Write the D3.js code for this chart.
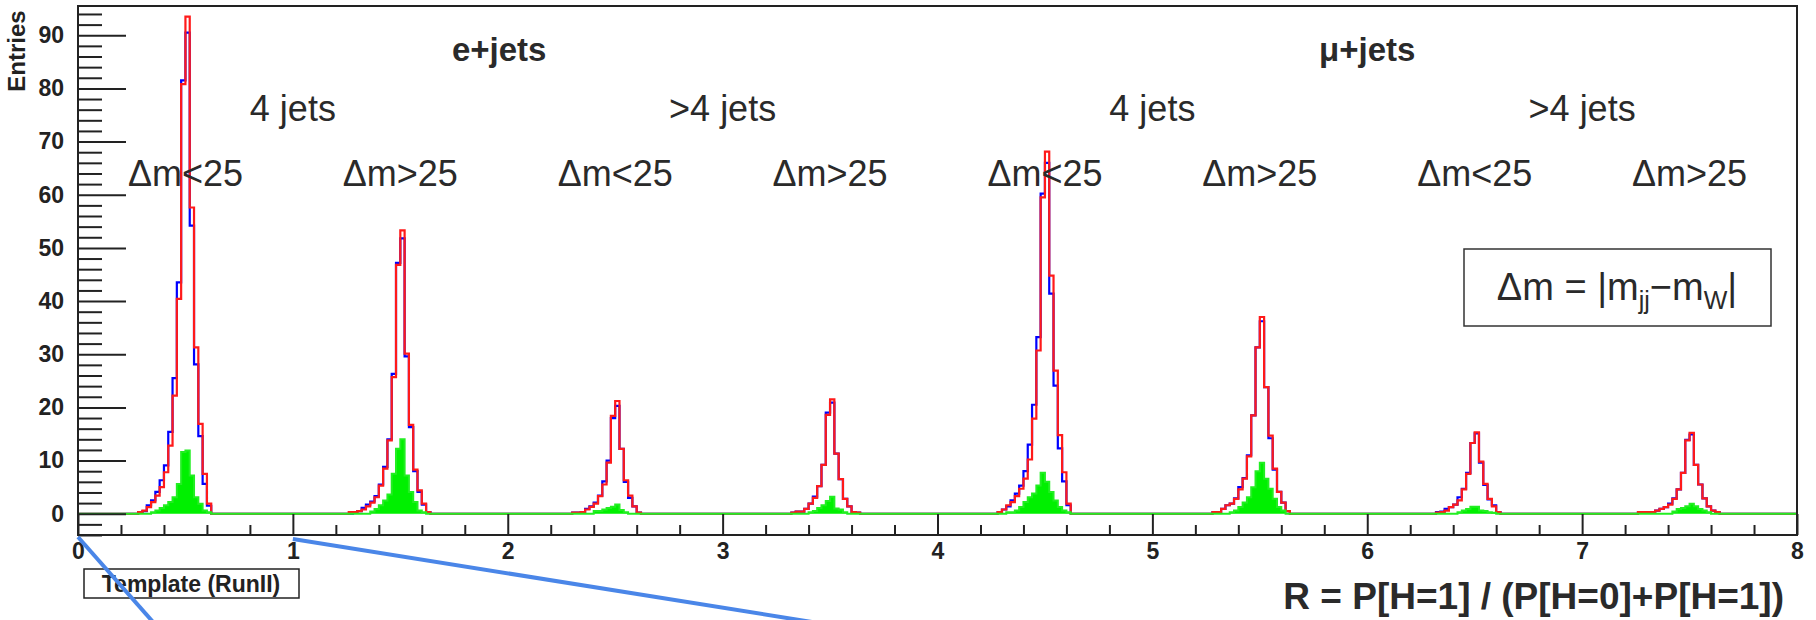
<!DOCTYPE html>
<html><head><meta charset="utf-8">
<script src="https://cdn.jsdelivr.net/npm/d3@7"></script>
<style>body{margin:0;background:#fff;} svg{display:block;}</style>
</head><body><svg id="c" width="1816" height="620"></svg>
<script>
// ---------------- data ----------------
const binWidth = 0.02;           // 50 bins per unit of R
const binsPerUnit = 50;
const firstBin = 13;             // each group array starts at bin 13 inside its unit
const channels = ["e+jets", "μ+jets"];
const channelCenters = [1.96, 6];
const jetLabels = ["4 jets", ">4 jets", "4 jets", ">4 jets"];
const jetCenters = [1, 3, 5, 7];
const dmLabels = ["Δm<25", "Δm>25", "Δm<25", "Δm>25", "Δm<25", "Δm>25", "Δm<25", "Δm>25"];
const dmCenters = [0.5, 1.5, 2.5, 3.5, 4.5, 5.5, 6.5, 7.5];
const xTicks = [0, 1, 2, 3, 4, 5, 6, 7, 8];
const yTicks = [0, 10, 20, 30, 40, 50, 60, 70, 80, 90];

// bins 13..32 of each unit (template groups 0..7)
const redCounts = [
  [0, 0.3, 0.6, 1.25, 2.2, 3.4, 5.0, 7.8, 12.8, 22.2, 40.4, 80.8, 93.5, 57.6, 31.3, 16.9, 7.5, 1.9, 0, 0],
  [0.3, 0.3, 0.5, 0.8, 1.4, 2.1, 3.1, 5.3, 8.5, 13.8, 25.7, 46.8, 53.3, 30.1, 16.7, 8.3, 4.4, 1.9, 0.3, 0],
  [0, 0, 0.2, 0.2, 0.3, 0.8, 1.3, 1.9, 3.3, 5.5, 9.6, 18.4, 21.2, 12.2, 6.3, 3.4, 1.4, 0.2, 0, 0],
  [0, 0, 0, 0.2, 0.4, 0.4, 0.9, 1.9, 3.0, 5.2, 9.2, 18.6, 21.5, 11.3, 6.5, 2.8, 1.4, 0.3, 0.2, 0],
  [0, 0.3, 0.8, 1.6, 2.2, 3.3, 4.7, 6.6, 10.2, 17.9, 30.7, 59.5, 68.1, 44.8, 26.9, 14.8, 7.8, 1.9, 0, 0],
  [0, 0.3, 0.3, 0.9, 1.6, 1.9, 2.8, 4.6, 6.6, 10.8, 18.5, 31.3, 37.0, 23.8, 14.7, 8.5, 4.1, 2.1, 0.5, 0],
  [0, 0, 0, 0.2, 0.3, 0.6, 1.25, 1.7, 2.5, 4.6, 7.5, 13.3, 15.3, 9.8, 5.6, 2.8, 1.4, 0.3, 0, 0],
  [0.3, 0.3, 0.3, 0.3, 0.6, 0.9, 1.25, 1.7, 2.8, 4.6, 7.7, 13.8, 15.2, 9.2, 5.5, 2.9, 1.4, 0.6, 0.3, 0]
];
const blueCounts = [
  [0, 0.3, 0.5, 1.6, 2.5, 4.1, 6.3, 9.1, 15.4, 25.5, 43.5, 81.5, 90.5, 54.2, 28.1, 14.6, 5.6, 1.5, 0, 0],
  [0, 0.3, 0.5, 1.1, 1.7, 2.3, 3.3, 5.5, 8.8, 14.0, 26.3, 47.2, 51.8, 29.6, 16.3, 8.0, 4.1, 1.7, 0.3, 0],
  [0, 0, 0.2, 0.2, 0.3, 0.9, 1.4, 2.1, 3.4, 6.1, 10.0, 18.0, 20.3, 12.2, 6.0, 3.0, 1.4, 0.2, 0, 0],
  [0, 0, 0, 0.2, 0.4, 0.4, 0.9, 1.9, 3.2, 5.2, 9.2, 19.0, 20.9, 11.3, 6.5, 2.8, 1.4, 0.3, 0.2, 0],
  [0, 0.3, 0.8, 1.4, 2.5, 3.8, 5.3, 8.0, 13.0, 20.5, 33.2, 60.2, 66.0, 41.4, 24.1, 12.3, 6.1, 1.6, 0, 0],
  [0, 0.3, 0.3, 0.9, 1.6, 1.9, 2.9, 5.0, 6.7, 11.0, 18.5, 31.3, 36.2, 23.8, 14.2, 8.3, 4.1, 2.1, 0.5, 0],
  [0, 0, 0, 0.3, 0.4, 0.9, 1.25, 1.7, 3.1, 4.7, 7.7, 13.3, 15.1, 9.6, 5.4, 2.7, 1.6, 0.3, 0, 0],
  [0.3, 0.3, 0.3, 0.3, 0.6, 0.9, 1.25, 1.9, 2.9, 4.6, 7.7, 13.9, 14.9, 9.2, 5.5, 2.9, 1.4, 0.6, 0.3, 0]
];
const greenCounts = [
  [0, 0, 0, 0, 0.3, 0.6, 1.1, 1.6, 2.2, 3.1, 5.6, 11.6, 11.9, 7.2, 3.1, 1.9, 0.6, 0.3, 0, 0],
  [0, 0, 0, 0, 0, 0.4, 0.9, 1.6, 2.5, 3.6, 7.5, 12.2, 14.0, 7.2, 4.1, 2.2, 0.6, 0.3, 0, 0],
  [0, 0, 0, 0, 0, 0, 0, 0.5, 0.5, 0.8, 1.1, 1.3, 1.75, 0.7, 0.3, 0, 0, 0, 0, 0],
  [0, 0, 0, 0, 0, 0, 0, 0.3, 0.5, 1.1, 1.6, 2.4, 3.2, 1.0, 0.8, 0.3, 0, 0, 0, 0],
  [0, 0, 0, 0.3, 0.3, 0.6, 1.25, 2.2, 3.1, 3.8, 5.3, 7.7, 6.0, 4.1, 2.5, 1.25, 0.6, 0.3, 0, 0],
  [0, 0, 0, 0, 0, 0.3, 0.6, 1.25, 2.1, 3.1, 5.0, 8.0, 9.6, 6.6, 4.7, 2.8, 1.25, 0.6, 0, 0],
  [0, 0, 0, 0, 0, 0, 0, 0, 0.3, 0.6, 0.9, 1.3, 1.3, 0.6, 0.5, 0.3, 0.2, 0, 0, 0],
  [0, 0, 0, 0, 0, 0, 0, 0, 0.4, 0.9, 1.1, 1.4, 1.9, 1.4, 0.9, 0.6, 0.3, 0, 0, 0]
];

// ---------------- layout ----------------
const frame = {left: 78, right: 1797, top: 6, bottom: 535};
const svg = d3.select("#c");
const x = d3.scaleLinear().domain([0, 8]).range([frame.left, frame.right]);
const y = d3.scaleLinear().domain([-4, 95.5]).range([frame.bottom, frame.top]);

function expand(groups) {
  const n = 8 * binsPerUnit;
  const full = new Array(n).fill(0);
  groups.forEach((g, gi) => g.forEach((v, j) => { full[gi * binsPerUnit + firstBin + j] = v; }));
  const pts = full.map((v, i) => [i * binWidth, v]);
  pts.push([8, full[n - 1]]);
  return pts;
}

svg.append("defs").append("clipPath").attr("id", "clip")
  .append("rect").attr("x", frame.left).attr("y", frame.top)
  .attr("width", frame.right - frame.left).attr("height", frame.bottom - frame.top);

const plot = svg.append("g").attr("clip-path", "url(#clip)");
const line = d3.line().x(d => x(d[0])).y(d => y(d[1])).curve(d3.curveStepAfter);
const area = d3.area().x(d => x(d[0])).y0(y(0)).y1(d => y(d[1])).curve(d3.curveStepAfter);

plot.append("path").datum(expand(blueCounts)).attr("d", line)
  .attr("fill", "none").attr("stroke", "#0000ff").attr("stroke-width", 2.2);
plot.append("path").datum(expand(redCounts)).attr("d", line)
  .attr("fill", "none").attr("stroke", "#ff1a1a").attr("stroke-width", 2.2);
const g = expand(greenCounts);
plot.append("path").datum(g).attr("d", area).attr("fill", "#00f000");
plot.append("path").datum(g).attr("d", line)
  .attr("fill", "none").attr("stroke", "#22ee22").attr("stroke-width", 2);

// ---------------- axes ----------------
const tickFont = "bold 23px 'Liberation Sans', Arial, sans-serif";
const yMinor = d3.range(-4, 95, 2).filter(v => v % 10 !== 0);
const yAx = svg.append("g").attr("transform", `translate(${frame.left},0)`)
  .call(d3.axisLeft(y).tickValues(yTicks).tickSize(-48).tickPadding(14));
yAx.select(".domain").remove();
yAx.selectAll("line").attr("stroke", "#222").attr("stroke-width", 2);
yAx.selectAll("text").style("font", tickFont).attr("fill", "#222");
const yAxm = svg.append("g").attr("transform", `translate(${frame.left},0)`)
  .call(d3.axisLeft(y).tickValues(yMinor).tickSize(-24).tickFormat(""));
yAxm.select(".domain").remove();
yAxm.selectAll("line").attr("stroke", "#222").attr("stroke-width", 2);

const xMinor = d3.range(0, 40).map(i => i * 0.2).filter(v => Math.abs(v - Math.round(v)) > 1e-6);
const xAx = svg.append("g").attr("transform", `translate(0,${frame.bottom})`)
  .call(d3.axisBottom(x).tickValues(xTicks).tickSize(-21).tickPadding(8));
xAx.select(".domain").remove();
xAx.selectAll("line").attr("stroke", "#222").attr("stroke-width", 2);
xAx.selectAll("text").style("font", tickFont).attr("fill", "#222");
const xAxm = svg.append("g").attr("transform", `translate(0,${frame.bottom})`)
  .call(d3.axisBottom(x).tickValues(xMinor).tickSize(-10).tickFormat(""));
xAxm.select(".domain").remove();
xAxm.selectAll("line").attr("stroke", "#222").attr("stroke-width", 2);

svg.append("rect").attr("x", frame.left).attr("y", frame.top)
  .attr("width", frame.right - frame.left).attr("height", frame.bottom - frame.top)
  .attr("fill", "none").attr("stroke", "#222").attr("stroke-width", 2);

// axis titles
svg.append("text").attr("transform", "translate(25,51) rotate(-90)")
  .attr("text-anchor", "middle").style("font", "bold 24px 'Liberation Sans', Arial, sans-serif")
  .attr("fill", "#222").text("Entries");
svg.append("text").attr("x", 1784).attr("y", 609).attr("text-anchor", "end")
  .style("font", "bold 37px 'Liberation Sans', Arial, sans-serif").attr("fill", "#2a2a2a")
  .text("R = P[H=1] / (P[H=0]+P[H=1])");

// annotations
const annFont = "36px 'Liberation Sans', Arial, sans-serif";
svg.selectAll("text.ch").data(channels).join("text").attr("class", "ch")
  .attr("x", (d, i) => x(channelCenters[i])).attr("y", 61).attr("text-anchor", "middle")
  .style("font", "bold 33px 'Liberation Sans', Arial, sans-serif").attr("fill", "#2a2a2a").text(d => d);
svg.selectAll("text.jt").data(jetLabels).join("text").attr("class", "jt")
  .attr("x", (d, i) => x(jetCenters[i])).attr("y", 121).attr("text-anchor", "middle")
  .style("font", annFont).attr("fill", "#2a2a2a").text(d => d);
svg.selectAll("text.dm").data(dmLabels).join("text").attr("class", "dm")
  .attr("x", (d, i) => x(dmCenters[i])).attr("y", 186).attr("text-anchor", "middle")
  .style("font", annFont).attr("fill", "#2a2a2a").text(d => d);

// Δm definition box
svg.append("rect").attr("x", 1464).attr("y", 249).attr("width", 307).attr("height", 77)
  .attr("fill", "#fff").attr("stroke", "#333").attr("stroke-width", 1.5);
const dmt = svg.append("text").attr("x", 1617).attr("y", 300).attr("text-anchor", "middle")
  .style("font", "38px 'Liberation Sans', Arial, sans-serif").attr("fill", "#2a2a2a");
dmt.append("tspan").text("Δm = |m");
dmt.append("tspan").attr("dy", 9).style("font-size", "25px").text("jj");
dmt.append("tspan").attr("dy", -9).text("−m");
dmt.append("tspan").attr("dy", 9).style("font-size", "25px").text("W");
dmt.append("tspan").attr("dy", -9).text("|");

// Template label box
svg.append("rect").attr("x", 84).attr("y", 569).attr("width", 215).attr("height", 29)
  .attr("fill", "#fff").attr("stroke", "#222").attr("stroke-width", 1.5);
svg.append("text").attr("x", 191).attr("y", 592).attr("text-anchor", "middle")
  .style("font", "bold 23px 'Liberation Sans', Arial, sans-serif").attr("fill", "#222")
  .text("Template (RunII)");

// callout lines
svg.append("line").attr("x1", x(0)).attr("y1", 537).attr("x2", 153).attr("y2", 622)
  .attr("stroke", "#4a86e8").attr("stroke-width", 4);
svg.append("line").attr("x1", x(1)).attr("y1", 539).attr("x2", 812).attr("y2", 622)
  .attr("stroke", "#4a86e8").attr("stroke-width", 4);
</script></body></html>
